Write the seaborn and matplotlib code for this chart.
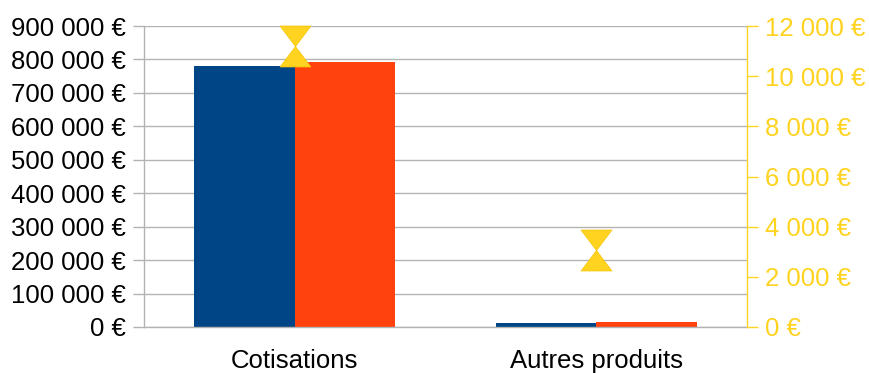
import matplotlib
matplotlib.use("Agg")
import matplotlib.pyplot as plt
from matplotlib.path import Path
from matplotlib.ticker import FuncFormatter, MultipleLocator
import pandas as pd
import seaborn as sns

# Produits par poste, deux séries en barres + une série sur l'axe secondaire
categories = ["Cotisations", "Autres produits"]
series_names = ["N-1", "N"]
serie_n1 = [781000, 10500]
serie_n = [793000, 13500]
ecart = [11200, 3050]

BLUE = "#004586"
ORANGE = "#ff420e"
YELLOW = "#ffd320"
GRID = "#b3b3b3"

sns.set_theme(style="white")
plt.rcParams["font.family"] = ["Liberation Sans", "DejaVu Sans"]

df = pd.DataFrame({
    "poste": categories * 2,
    "serie": [series_names[0]] * len(categories) + [series_names[1]] * len(categories),
    "montant": serie_n1 + serie_n,
})

fig = plt.figure(figsize=(8.69, 3.73), dpi=100)
ax = fig.add_axes([144 / 869, 1 - 327 / 373, 603 / 869, 301 / 373])

sns.barplot(data=df, x="poste", y="montant", hue="serie", order=categories,
            palette=[BLUE, ORANGE], width=0.667, gap=0, saturation=1,
            legend=False, ax=ax, linewidth=0)

ax.set_xlim(-0.5, len(categories) - 0.5)
ax.set_ylim(0, 900000)
ax.yaxis.set_major_locator(MultipleLocator(100000))


def euro(v, _pos=None):
    return f"{int(round(v)):,}".replace(",", " ") + " €"


ax.yaxis.set_major_formatter(FuncFormatter(euro))
ax.grid(axis="y", color=GRID, linewidth=1)
ax.set_axisbelow(True)
ax.set_xlabel("")
ax.set_ylabel("")
for s in ["top", "right"]:
    ax.spines[s].set_visible(False)
for s in ["left", "bottom"]:
    ax.spines[s].set_color(GRID)
    ax.spines[s].set_linewidth(1)

# ticks on the category axis sit at the group boundaries
ax.set_xticks([i - 0.5 for i in range(len(categories) + 1)], minor=True)
ax.tick_params(axis="x", which="minor", length=8, width=1, color=GRID, direction="out")
ax.tick_params(axis="x", which="major", length=0, labelsize=18.5, pad=15.5, labelcolor="#000000")
ax.tick_params(axis="y", length=8, width=1, color=GRID, direction="out",
               labelsize=18.5, pad=5, labelcolor="#000000")

# secondary axis
ax2 = ax.twinx()
ax2.set_ylim(0, 12000)
ax2.yaxis.set_major_locator(MultipleLocator(2000))
ax2.yaxis.set_major_formatter(FuncFormatter(euro))
for s in ["top", "left", "bottom"]:
    ax2.spines[s].set_visible(False)
ax2.spines["right"].set_color(YELLOW)
ax2.spines["right"].set_linewidth(1)
ax2.tick_params(axis="y", length=8, width=1, color=YELLOW, direction="out",
                labelsize=18.5, pad=5, labelcolor=YELLOW)
ax2.grid(False)

hourglass = Path([(-0.755, 1), (0.755, 1), (-0.755, -1), (0.755, -1), (-0.755, 1)],
                 [Path.MOVETO, Path.LINETO, Path.LINETO, Path.LINETO, Path.CLOSEPOLY])
ax2.plot(categories, ecart, linestyle="none", marker=hourglass, markersize=29.5,
         markerfacecolor=YELLOW, markeredgecolor="#f5c400", markeredgewidth=0.5,
         clip_on=False)
ax2.set_xlim(-0.5, len(categories) - 0.5)

fig.savefig("out.png", dpi=100)
